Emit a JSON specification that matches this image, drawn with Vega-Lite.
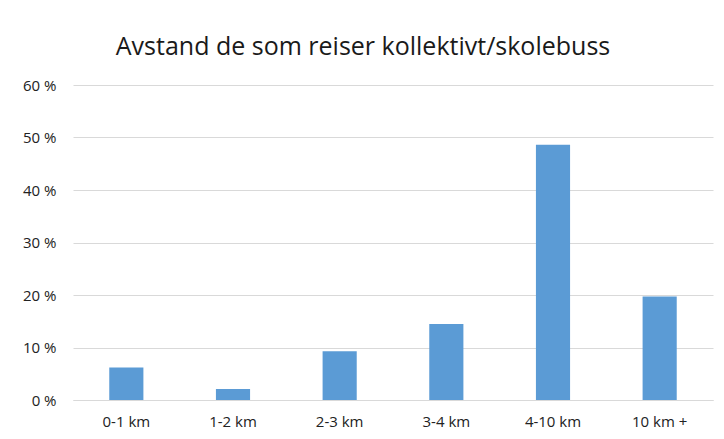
{
  "$schema": "https://vega.github.io/schema/vega-lite/v6.json",
  "autosize": "none",
  "width": 640,
  "height": 315,
  "padding": {"left": 73, "top": 85, "right": 11, "bottom": 39},
  "background": "white",
  "title": {
    "text": "Avstand de som reiser kollektivt/skolebuss",
    "font": "Open Sans",
    "fontSize": 25,
    "fontWeight": "normal",
    "color": "#1a1a1a",
    "anchor": "middle",
    "baseline": "alphabetic",
    "offset": -2,
    "dx": -30
  },
  "data": {
    "values": [
      {"avstand": "0-1 km", "andel": 6.2},
      {"avstand": "1-2 km", "andel": 2.1},
      {"avstand": "2-3 km", "andel": 9.3},
      {"avstand": "3-4 km", "andel": 14.5},
      {"avstand": "4-10 km", "andel": 48.6},
      {"avstand": "10 km +", "andel": 19.7}
    ]
  },
  "mark": {"type": "bar", "color": "#5B9BD5"},
  "encoding": {
    "x": {
      "field": "avstand",
      "type": "nominal",
      "sort": null,
      "scale": {"paddingInner": 0.68, "paddingOuter": 0.34},
      "axis": {
        "title": null,
        "labelAngle": 0,
        "ticks": false,
        "domainColor": "#d9d9d9",
        "domainWidth": 1,
        "labelPadding": 14,
        "labelFont": "Open Sans",
        "labelFontSize": 15,
        "labelColor": "#222"
      }
    },
    "y": {
      "field": "andel",
      "type": "quantitative",
      "scale": {"domain": [0, 60], "nice": false},
      "axis": {
        "title": null,
        "values": [0, 10, 20, 30, 40, 50, 60],
        "labelExpr": "datum.value + ' %'",
        "domain": false,
        "ticks": false,
        "gridColor": "#d9d9d9",
        "gridWidth": 1,
        "labelPadding": 17,
        "labelFont": "Open Sans",
        "labelFontSize": 15,
        "labelColor": "#222"
      }
    }
  },
  "config": {"view": {"stroke": null}}
}
